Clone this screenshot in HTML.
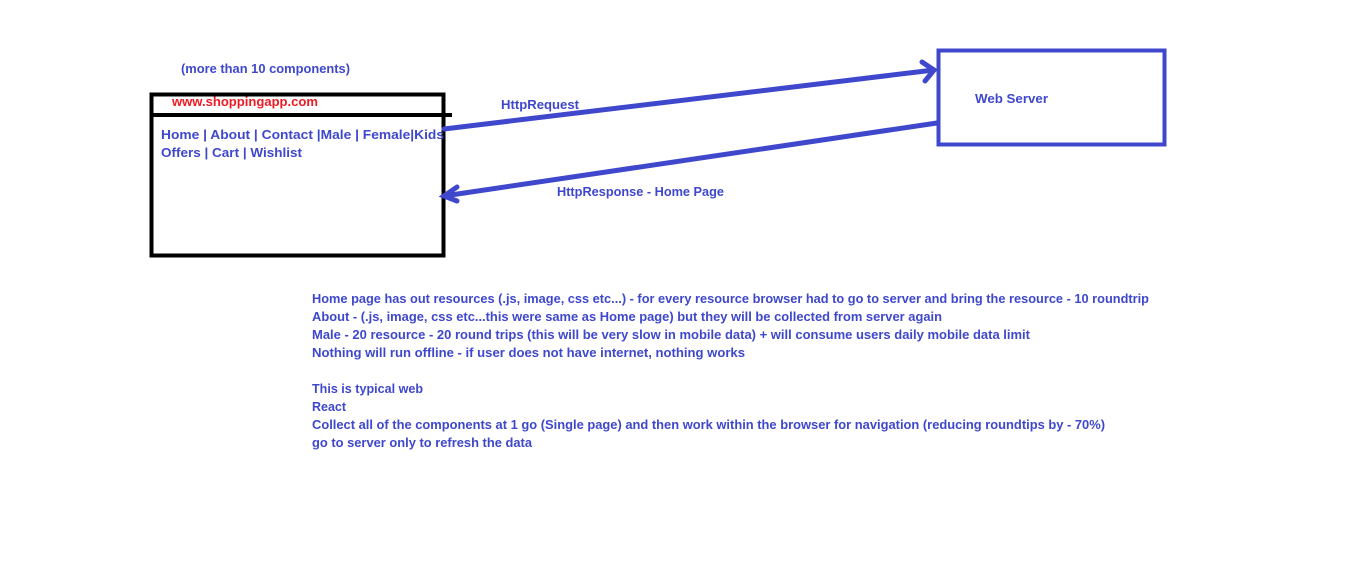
<!DOCTYPE html>
<html><head><meta charset="utf-8"><style>
html,body{margin:0;padding:0;background:#fff;width:1360px;height:563px;overflow:hidden}
svg text{font-family:"Liberation Sans",sans-serif;font-weight:bold;font-size:13px;fill:#3f48cc}
</style></head><body>
<svg width="1360" height="563" xmlns="http://www.w3.org/2000/svg">
<rect x="151.5" y="94.5" width="292" height="161" fill="none" stroke="#000" stroke-width="4"/>
<line x1="150" y1="115" x2="452" y2="115" stroke="#000" stroke-width="4"/>
<rect x="938.5" y="50.5" width="226" height="94" fill="none" stroke="#3f48cc" stroke-width="4"/>
<g stroke="#3f48cc" stroke-width="5" fill="none" stroke-linecap="round">
<line x1="444" y1="129" x2="934" y2="70"/>
<polyline points="922,62 934,70 925,81"/>
<line x1="937" y1="123" x2="444" y2="196"/>
<polyline points="457,187 444,196 457,201"/>
</g>
<text x="181" y="73" textLength="169" lengthAdjust="spacingAndGlyphs">(more than 10 components)</text>
<text x="172" y="106" textLength="146" lengthAdjust="spacingAndGlyphs" style="fill:#ed1c24">www.shoppingapp.com</text>
<text x="161" y="139" textLength="283" lengthAdjust="spacingAndGlyphs">Home | About | Contact  |Male | Female|Kids</text>
<text x="161" y="157" textLength="141" lengthAdjust="spacingAndGlyphs">Offers | Cart | Wishlist</text>
<text x="501" y="109" textLength="78" lengthAdjust="spacingAndGlyphs">HttpRequest</text>
<text x="557" y="196" textLength="167" lengthAdjust="spacingAndGlyphs">HttpResponse - Home Page</text>
<text x="975" y="103" textLength="73" lengthAdjust="spacingAndGlyphs">Web Server</text>
<text x="312" y="303" textLength="837" lengthAdjust="spacingAndGlyphs">Home page has out resources (.js, image, css etc...) - for every resource browser had to go to server and bring the resource - 10 roundtrip</text>
<text x="312" y="321" textLength="630" lengthAdjust="spacingAndGlyphs">About - (.js, image, css etc...this were same as Home page) but they will be collected from server again</text>
<text x="312" y="339" textLength="718" lengthAdjust="spacingAndGlyphs">Male - 20 resource - 20 round trips (this will be very slow in mobile data) + will consume users daily mobile data limit</text>
<text x="312" y="357" textLength="433" lengthAdjust="spacingAndGlyphs">Nothing will run offline - if user does not have internet, nothing works</text>
<text x="312" y="393" textLength="111" lengthAdjust="spacingAndGlyphs">This is typical web</text>
<text x="312" y="411" textLength="34" lengthAdjust="spacingAndGlyphs">React</text>
<text x="312" y="429" textLength="793" lengthAdjust="spacingAndGlyphs">Collect all of the components at 1 go (Single page) and then work within the browser for navigation (reducing roundtips by - 70%)</text>
<text x="312" y="447" textLength="220" lengthAdjust="spacingAndGlyphs">go to server only to refresh the data</text>
</svg>
</body></html>
